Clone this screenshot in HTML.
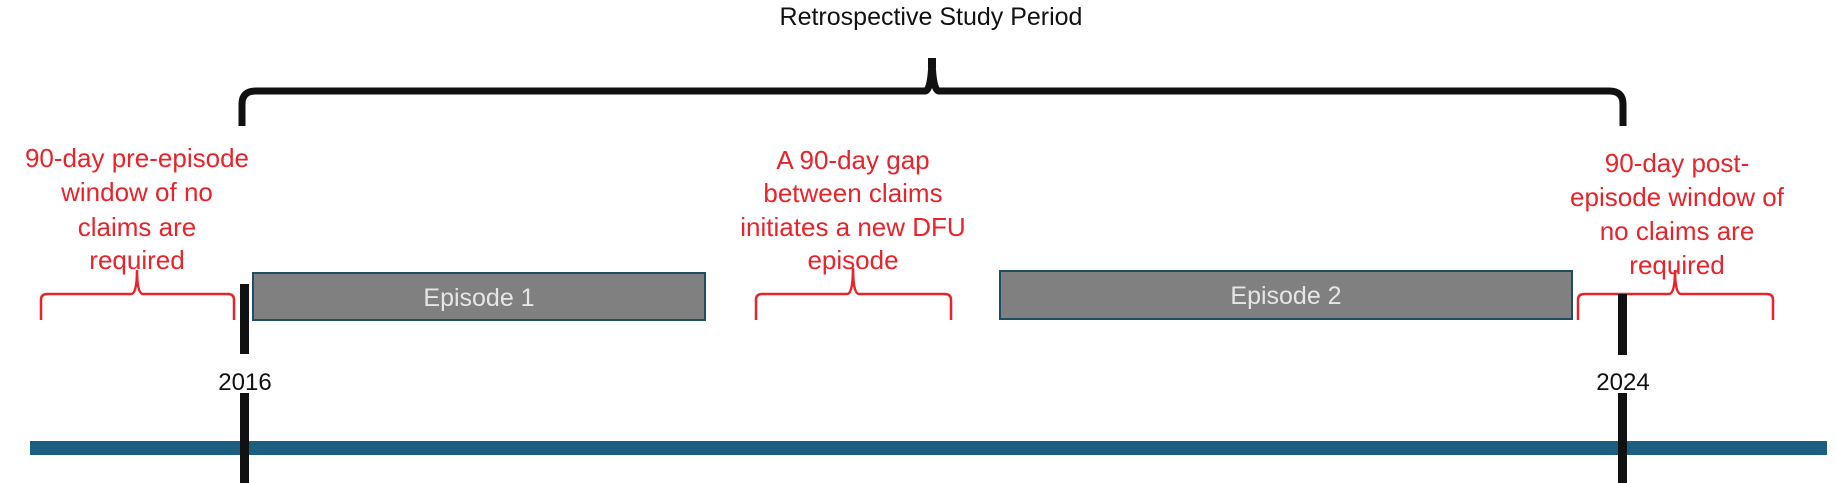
<!DOCTYPE html>
<html><head><meta charset="utf-8"><style>
html,body{margin:0;padding:0;background:#fff;}
svg{display:block;}
text{font-family:"Liberation Sans",sans-serif;}
</style></head><body>
<svg width="1837" height="483" viewBox="0 0 1837 483" xmlns="http://www.w3.org/2000/svg">
<text x="931" y="25" font-size="25" fill="#111" text-anchor="middle">Retrospective Study Period</text>
<!-- big brace -->
<path d="M242 126 L242 104 Q242 91 256 91 L925 91 Q931 91 932 60 Q933 91 939 91 L1609 91 Q1623 91 1623 104 L1623 126" fill="none" stroke="#111" stroke-width="7"/>
<rect x="928" y="58" width="8" height="10" fill="#111"/>
<!-- red texts -->
<g font-size="26" fill="#e8232a" text-anchor="middle">
<text x="137" y="167">90-day pre-episode</text>
<text x="137" y="201">window of no</text>
<text x="137" y="236">claims  are</text>
<text x="137" y="269">required</text>
<text x="853" y="169">A 90-day gap</text>
<text x="853" y="202">between claims</text>
<text x="853" y="236">initiates a new DFU</text>
<text x="853" y="269">episode</text>
<text x="1677" y="172">90-day post-</text>
<text x="1677" y="206">episode window of</text>
<text x="1677" y="240">no claims are</text>
<text x="1677" y="274">required</text>
</g>
<!-- red braces -->
<g fill="none" stroke="#e8232a" stroke-width="2.5">
<path d="M41 320 L41 300 Q41 294 47 294 L131 294 Q137 294 137 270 Q137 294 143 294 L228 294 Q234 294 234 300 L234 320"/>
<path d="M756 320 L756 300 Q756 294 762 294 L847 294 Q853 294 853 268 Q853 294 859 294 L945 294 Q951 294 951 300 L951 320"/>
<path d="M1578 320 L1578 300 Q1578 294 1584 294 L1669 294 Q1675 294 1675 270 Q1675 294 1681 294 L1767 294 Q1773 294 1773 300 L1773 320"/>
</g>
<!-- episodes -->
<rect x="253" y="273" width="452" height="47" fill="#808080" stroke="#1f4e63" stroke-width="2"/>
<text x="479" y="306" font-size="25" fill="#e6e6e6" text-anchor="middle">Episode 1</text>
<rect x="1000" y="271" width="572" height="48" fill="#808080" stroke="#1f4e63" stroke-width="2"/>
<text x="1286" y="304" font-size="25" fill="#e6e6e6" text-anchor="middle">Episode 2</text>
<!-- blue line -->
<rect x="30" y="441" width="1797" height="14" fill="#1b5e80"/>
<!-- year bars -->
<rect x="240" y="284" width="9" height="70" fill="#111"/>
<rect x="240" y="393" width="9" height="90" fill="#111"/>
<rect x="1618" y="294" width="9" height="61" fill="#111"/>
<rect x="1618" y="393" width="9" height="90" fill="#111"/>
<text x="245" y="390" font-size="24" fill="#111" text-anchor="middle">2016</text>
<text x="1623" y="390" font-size="24" fill="#111" text-anchor="middle">2024</text>
</svg>
</body></html>
